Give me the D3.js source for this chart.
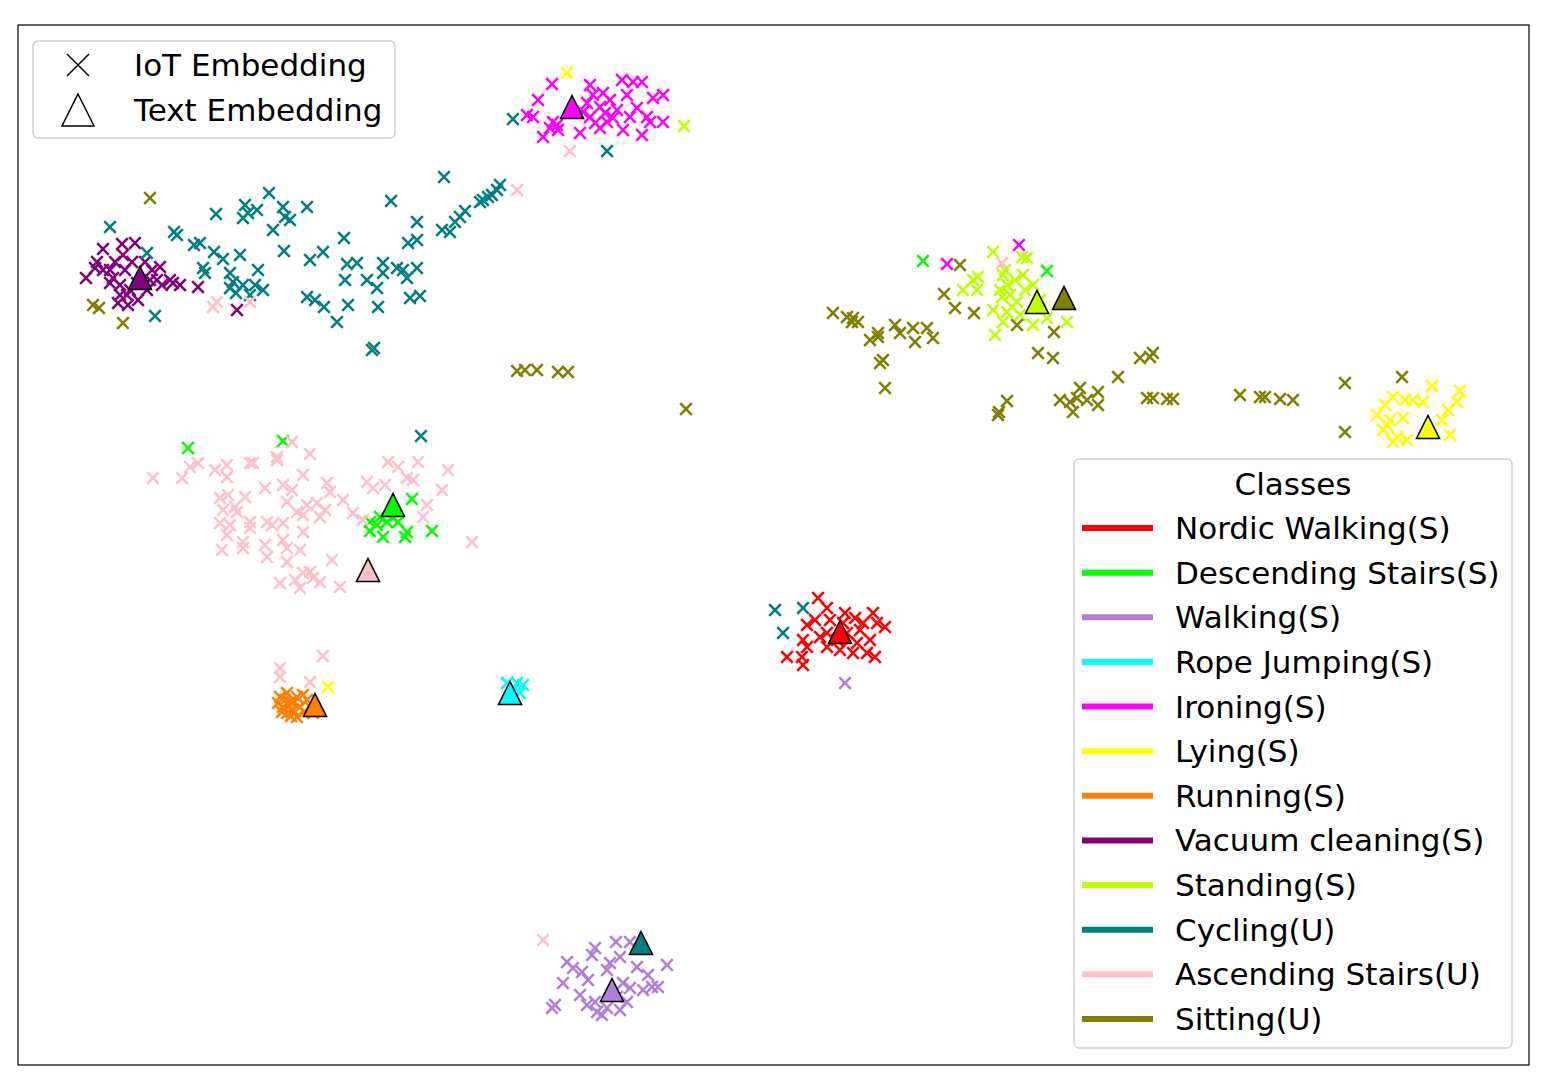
<!DOCTYPE html>
<html>
<head>
<meta charset="utf-8">
<script src="https://cdn.jsdelivr.net/npm/d3@7"></script>
<style>
  body { margin: 0; background: #fff; }
  text { font-family: "DejaVu Sans", sans-serif; }
</style>
</head>
<body>
<div id="chart"></div>
<script>
// t-SNE coordinates (arbitrary embedding units)
var classNames = ["Nordic Walking(S)", "Descending Stairs(S)", "Walking(S)", "Rope Jumping(S)",
  "Ironing(S)", "Lying(S)", "Running(S)", "Vacuum cleaning(S)", "Standing(S)",
  "Cycling(U)", "Ascending Stairs(U)", "Sitting(U)"]

var palette = ["#ff0000", "#00ff00", "#b07fdc", "#00ffff", "#ff00ff", "#ffff00",
  "#ff8000", "#800080", "#bfff00", "#008080", "#ffc0cb", "#808000"]

var nordicWalking = [[818,598],[827,608],[815,620],[807,625],[803,640],[807,647],[787,657],[802,657],
  [803,665],[820,637],[827,647],[830,620],[845,613],[855,618],[873,613],[885,627],[877,623],[860,630],
  [847,633],[857,643],[870,640],[867,653],[875,657],[840,650],[853,653],[837,640],[827,633],[843,623],[863,623]]

var descendingStairs = [[188,448],[283,441],[412,499],[432,531],[370,522],[370,531],[383,537],[405,537],
  [407,532],[380,517],[387,522],[393,518],[377,525],[398,522],[923,261],[1047,271]]

var walking = [[595,948],[616,942],[630,942],[592,955],[567,962],[573,968],[582,972],[610,963],[620,957],
  [607,970],[667,965],[637,967],[648,975],[652,987],[658,987],[643,990],[563,983],[588,980],[580,995],
  [595,1002],[555,1005],[552,1008],[607,1008],[620,1010],[627,1002],[630,988],[623,983],[597,1012],
  [587,1005],[602,1015],[617,997],[845,683]]

var ropeJumping = [[507,683],[517,683],[523,685],[520,693],[513,690]]

var ironing = [[552,84],[538,100],[527,115],[533,117],[553,122],[558,130],[543,137],[580,133],[590,85],
  [593,95],[600,107],[605,113],[610,100],[617,110],[607,122],[600,128],[622,80],[633,82],[642,82],[627,95],
  [637,108],[653,98],[663,95],[642,135],[623,130],[647,117],[663,122],[650,122],[590,117],[583,112],
  [595,123],[613,118],[603,93],[630,117],[587,103],[557,125],[550,128],[947,264],[1019,245]]

var lying = [[1432,386],[1460,391],[1457,402],[1448,410],[1442,420],[1450,435],[1377,415],[1385,405],
  [1393,397],[1405,400],[1413,400],[1423,402],[1390,420],[1403,418],[1383,430],[1397,437],[1393,442],
  [1407,440],[1387,425],[567,73],[328,687]]

var running = [[280,697],[287,693],[297,697],[303,695],[283,707],[293,710],[300,707],[290,702],[310,707],
  [313,713],[287,713],[297,717],[278,703],[307,700],[293,703],[285,700],[282,712],[304,712],[291,716]]

var vacuumCleaning = [[103,249],[122,244],[135,243],[97,262],[86,278],[103,270],[110,270],[113,278],
  [123,255],[132,262],[125,270],[120,285],[120,295],[118,303],[128,305],[138,300],[147,290],[152,270],
  [160,267],[170,280],[180,285],[173,283],[198,287],[237,310],[110,283],[157,280],[137,283],
  [95,268],[115,262],[130,290],[145,262],[150,280],[127,295],[162,285]]

var standing = [[993,252],[1027,258],[1022,257],[978,277],[973,280],[963,290],[977,290],[1003,275],
  [1007,285],[1002,297],[993,310],[1007,312],[1017,302],[1025,290],[1023,275],[1033,285],[1003,322],
  [995,335],[1020,315],[1033,325],[1047,318],[1067,322],[1040,300],[1012,307],[1005,270],[684,126],
  [1000,290],[1010,295],[1015,280]]

var cycling = [[110,227],[147,253],[155,316],[174,232],[177,235],[194,245],[200,243],[214,252],[223,259],
  [240,255],[203,268],[205,273],[230,273],[258,270],[233,282],[243,285],[230,288],[255,285],[263,290],
  [236,293],[250,295],[216,214],[245,205],[248,213],[243,218],[257,210],[269,193],[283,207],[285,217],
  [290,220],[273,230],[307,207],[284,251],[310,260],[323,252],[344,238],[347,264],[357,263],[345,280],
  [367,280],[377,288],[383,263],[397,268],[403,270],[417,268],[407,278],[383,273],[307,297],[315,300],
  [324,307],[348,305],[378,307],[337,322],[410,298],[420,296],[372,350],[374,348],[391,201],[444,177],
  [417,222],[417,240],[408,243],[442,230],[450,232],[455,222],[460,217],[465,211],[480,202],[483,200],
  [488,197],[492,195],[497,190],[500,185],[513,119],[607,151],[421,436],[775,610],[803,608],[783,633]]

var ascendingStairs = [[153,478],[182,478],[190,467],[198,463],[215,470],[227,465],[227,477],[250,463],
  [253,463],[277,457],[277,460],[292,442],[310,454],[303,475],[327,483],[330,492],[343,500],[353,513],
  [367,482],[373,488],[385,485],[388,462],[398,467],[418,462],[407,478],[413,480],[442,490],[448,470],
  [427,505],[423,517],[472,542],[228,495],[245,497],[265,488],[283,485],[292,490],[287,502],[307,505],
  [317,503],[325,510],[223,510],[237,512],[220,523],[230,525],[250,522],[250,528],[267,522],[272,525],
  [283,523],[297,512],[303,515],[320,517],[227,535],[243,542],[222,550],[243,548],[265,545],[267,557],
  [283,540],[287,548],[303,532],[300,550],[287,562],[332,560],[280,583],[295,580],[303,573],[313,578],
  [320,582],[300,588],[340,587],[310,572],[220,498],[235,507],[363,520],
  [217,302],[213,307],[250,302],[517,190],[570,151],[323,656],[280,668],[280,677],[310,682],[543,940],[1002,263]]

var sitting = [[150,198],[93,305],[99,308],[123,323],[517,371],[525,370],[537,370],[558,372],[568,372],
  [686,409],[960,265],[833,313],[847,317],[853,318],[858,322],[852,322],[878,333],[870,340],[878,337],
  [895,325],[900,333],[913,328],[915,342],[927,328],[933,338],[883,360],[880,363],[885,388],[944,294],
  [955,308],[974,313],[1017,325],[1054,332],[1038,353],[1053,358],[998,415],[1007,401],[1060,400],
  [1070,402],[1077,398],[1080,388],[1073,412],[1087,400],[1098,392],[1098,405],[1118,377],[1140,358],
  [1150,357],[1153,353],[1147,398],[1153,398],[1167,399],[1173,399],[1240,395],[1260,397],[1265,397],
  [1280,399],[1293,400],[1345,383],[1402,377],[1345,432],[999,412]]

var iotSeries = [nordicWalking, descendingStairs, walking, ropeJumping, ironing, lying, running,
  vacuumCleaning, standing, cycling, ascendingStairs, sitting]

// one text-embedding point per class, same order as classNames
var textEmbedding = [[840,632],[393,505],[612,990],[510,693],[572,107],[1428,427],[315,705],
  [140,278],[1037,302],[641,943],[368,570],[1064,298]]

var width = 1542, height = 1085
var frame = { left: 18, top: 25, right: 1529, bottom: 1065 }

var svg = d3.select("#chart").append("svg")
  .attr("width", width)
  .attr("height", height)

var x = d3.scaleLinear().domain([18, 1529]).range([frame.left, frame.right])
var y = d3.scaleLinear().domain([25, 1065]).range([frame.top, frame.bottom])

var plot = svg.append("g")

var cross = function(h) {
  return "M" + -h + "," + -h + "L" + h + "," + h + "M" + -h + "," + h + "L" + h + "," + -h
}
var tri = function(h) {
  return "M0," + -h + "L" + h + "," + h + "L" + -h + "," + h + "Z"
}

iotSeries.forEach(function(pts, i) {
  plot.selectAll(".iot" + i)
    .data(pts)
    .enter().append("path")
    .attr("class", "iot" + i)
    .attr("transform", function(d) { return "translate(" + x(d[0]) + "," + y(d[1]) + ")" })
    .attr("d", cross(5.8))
    .attr("stroke", palette[i])
    .attr("stroke-width", 2.6)
    .attr("fill", "none")
})

plot.selectAll(".txt")
  .data(textEmbedding)
  .enter().append("path")
  .attr("class", "txt")
  .attr("transform", function(d) { return "translate(" + x(d[0]) + "," + y(d[1]) + ")" })
  .attr("d", tri(11.5))
  .attr("fill", function(d, i) { return palette[i] })
  .attr("stroke", "#000")
  .attr("stroke-width", 1.6)
  .attr("stroke-linejoin", "miter")

svg.append("rect")
  .attr("x", frame.left).attr("y", frame.top)
  .attr("width", frame.right - frame.left).attr("height", frame.bottom - frame.top)
  .attr("fill", "none").attr("stroke", "#000").attr("stroke-width", 1.2)

// marker legend, top left
var lg1 = svg.append("g")
lg1.append("rect")
  .attr("x", 33).attr("y", 41).attr("width", 362).attr("height", 97).attr("rx", 5)
  .attr("fill", "#fff").attr("fill-opacity", 0.8).attr("stroke", "#d0d0d0").attr("stroke-width", 1.5)
lg1.append("path").attr("transform", "translate(78,65)").attr("d", cross(11))
  .attr("stroke", "#000").attr("stroke-width", 1.5).attr("fill", "none")
lg1.append("path").attr("transform", "translate(78,110)").attr("d", tri(16))
  .attr("stroke", "#000").attr("stroke-width", 1.5).attr("fill", "none")
lg1.selectAll("text")
  .data(["IoT Embedding", "Text Embedding"])
  .enter().append("text")
  .attr("x", 134)
  .attr("y", function(d, i) { return 76 + i * 45 })
  .style("font-size", "31px")
  .text(function(d) { return d })

// class legend, lower right
var lg2 = svg.append("g")
lg2.append("rect")
  .attr("x", 1074).attr("y", 459).attr("width", 438).attr("height", 589).attr("rx", 5)
  .attr("fill", "#fff").attr("fill-opacity", 0.8).attr("stroke", "#d0d0d0").attr("stroke-width", 1.5)
lg2.append("text")
  .attr("x", 1293).attr("y", 495)
  .style("text-anchor", "middle").style("font-size", "31px")
  .text("Classes")

var row = d3.scaleLinear().domain([0, classNames.length - 1]).range([528, 1019])

var entry = lg2.selectAll(".entry")
  .data(classNames)
  .enter().append("g")
  .attr("class", "entry")
  .attr("transform", function(d, i) { return "translate(0," + row(i) + ")" })

entry.append("line")
  .attr("x1", 1082).attr("x2", 1153)
  .attr("stroke", function(d, i) { return palette[i] })
  .attr("stroke-width", 6)

entry.append("text")
  .attr("x", 1175).attr("y", 11)
  .style("font-size", "31px")
  .text(function(d) { return d })
</script>
</body>
</html>
